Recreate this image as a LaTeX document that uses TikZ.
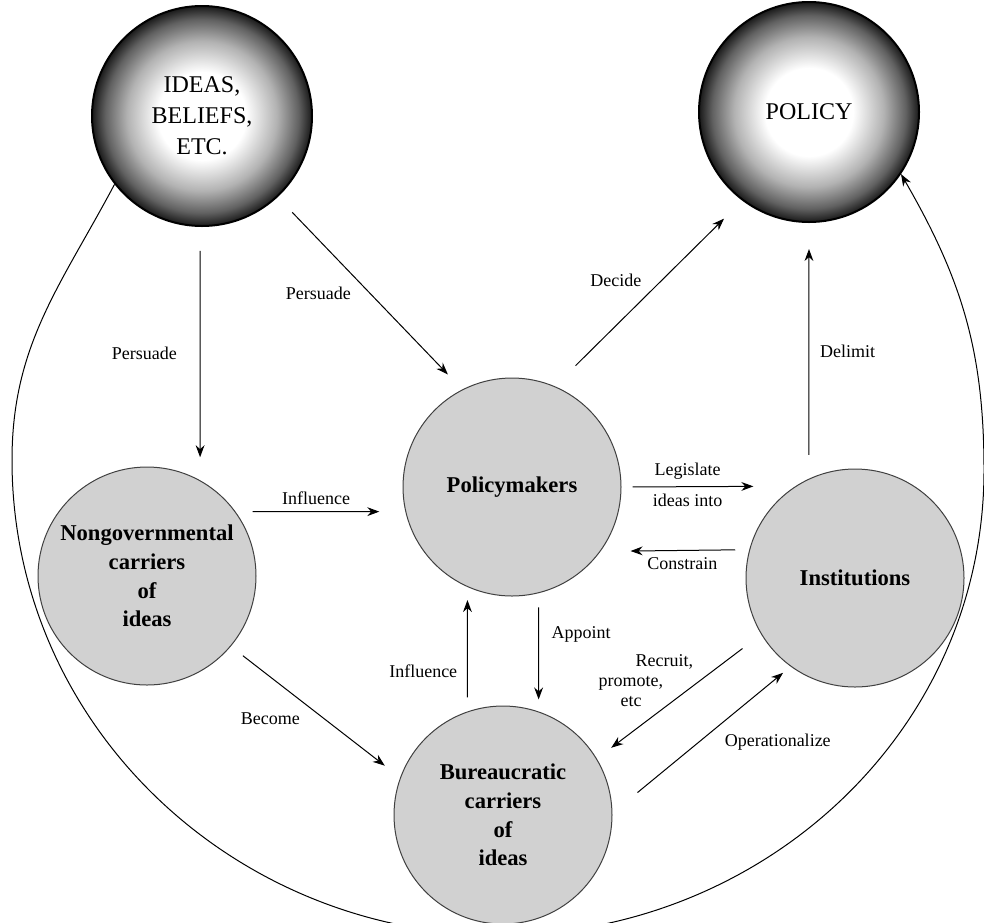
\documentclass[tikz,border=0pt]{standalone}
\usepackage{fontspec}
\setmainfont{Liberation Serif}
\usetikzlibrary{arrows.meta}
\pgfdeclareradialshading{darkrim}{\pgfpoint{0bp}{0bp}}{%
  color(0bp)=(white); color(10bp)=(white); color(17bp)=(black!30);
  color(22bp)=(black!62); color(25bp)=(black!90); color(50bp)=(black!90)}
\tikzset{
  sphere/.style={circle, draw, line width=1pt, shading=darkrim, minimum size=110pt,
    inner sep=0pt, align=center, font=\fontsize{12}{15.5}\selectfont},
  carrier/.style={circle, draw=black!75, line width=0.5pt, fill=black!18, minimum size=109pt,
    inner sep=0pt, align=center, font=\fontsize{11.3}{14.3}\selectfont\bfseries},
  link/.style={->, line width=0.5pt, nodes={font=\fontsize{9}{10}\selectfont}}
}
\begin{document}
\begin{tikzpicture}[x=0.5pt, y=-0.5pt, >={Stealth[length=6pt, width=4.4pt]}]
\useasboundingbox (0,0) rectangle (984,922);
\clip (0,0) rectangle (984,922);
\node[sphere] (ideas) at (202,116) {IDEAS,\\BELIEFS,\\ETC.};
\node[sphere] (policy) at (809,112) {POLICY};
\node[carrier] (nongov) at (147,576) {Nongovernmental\\carriers\\of\\ideas};
\node[carrier] (pmakers) at (512,487) {Policymakers};
\node[carrier] (inst) at (855,578) {Institutions};
\node[carrier] (bureau) at (503,815) {Bureaucratic\\carriers\\of\\ideas};
\coordinate (arcW) at (12,460);
\coordinate (arcS) at (500,935);
\coordinate (arcE) at (984,470);
\draw[link] (ideas.218) to[out=242, in=90] (arcW) to[out=270, in=180] (arcS)
  to[out=0, in=270] (arcE) to[out=90, in=-60] (policy.-34);
\draw[link, shorten <=12pt, shorten >=11.5pt] (ideas.-91) -- (nongov.61) node[left=8pt, pos=.5]{Persuade};
\draw[link, shorten <=10.5pt, shorten >=10.4pt] (ideas.-47) -- (pmakers.117.5) node[left=6pt, pos=.5]{Persuade};
\draw[link, shorten <=14.6pt, shorten >=12.8pt] (pmakers.67) -- (policy.-127) node[above left, pos=.5]{Decide};
\draw[link, shorten <=12pt, shorten >=13pt] (inst.115) -- (policy.-90) node[right=2pt, pos=.5]{Delimit};
\draw[link, shorten <=8.5pt, shorten >=13pt] (nongov.36) -- (pmakers.-167) node[above, pos=.475]{Influence};
\draw[link, shorten <=5.5pt, shorten >=21pt] (pmakers.0) -- (inst.123) node[above, pos=.38]{Legislate} node[below, pos=.38]{ideas into};
\draw[link, shorten <=7pt, shorten >=15pt] (inst.165.6) -- (pmakers.-36) node[below, pos=.45]{Constrain};
\draw[link, shorten <=7pt, shorten >=6pt] (pmakers.-76) -- (bureau.71) node[right=3pt, pos=.35]{Appoint};
\draw[link, shorten <=7pt, shorten >=6.5pt] (bureau.109) -- (pmakers.-114) node[left=1.5pt, pos=.32]{Influence};
\draw[link, shorten <=7.6pt, shorten >=9.7pt] (nongov.-40) -- (bureau.160) node[below left, pos=.45]{Become};
\draw[link, shorten <=11.7pt, shorten >=9pt] (inst.211) -- (bureau.31) node[left, pos=.37, align=left]{\hspace*{18.5pt}Recruit,\\promote,\\\hspace*{11pt}etc};
\draw[link, shorten <=16.2pt, shorten >=4.9pt] (bureau.1) -- (inst.-126) node[below right, pos=.59]{Operationalize};
\end{tikzpicture}
\end{document}
